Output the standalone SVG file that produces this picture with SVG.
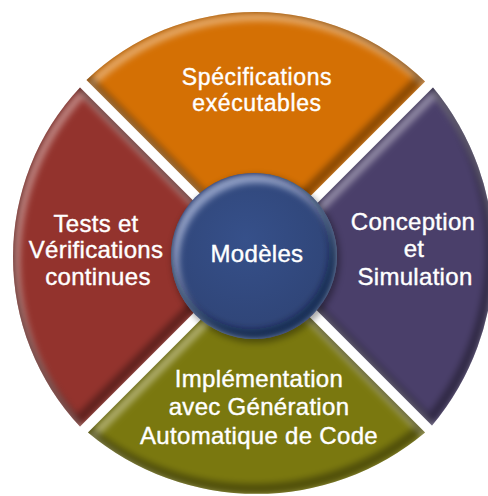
<svg xmlns="http://www.w3.org/2000/svg" xmlns:xlink="http://www.w3.org/1999/xlink" width="488" height="496" viewBox="0 0 488 496">
<style>
.lbl{font-family:"Liberation Sans",Arial,sans-serif;font-size:24px;fill:#fff;text-anchor:middle;stroke:#fff;stroke-width:0.4;letter-spacing:0.3px}
.sm{font-size:23px;letter-spacing:0.6px}
.hl{fill:none;stroke:#fff;stroke-opacity:0.4;stroke-width:8;filter:url(#bl)}
.sh{fill:none;stroke:#000;stroke-opacity:0.35;stroke-width:10;filter:url(#bl)}
</style>
<defs>
<filter id="bl" x="-20%" y="-20%" width="140%" height="140%"><feGaussianBlur stdDeviation="3"/></filter>
<path id="sO" d="M256.5,250 L86.5,80 A243,243 0 0,1 425,81.5 Z"/>
<path id="sR" d="M249.5,257 L80,426.5 A248,248 0 0,1 80,87.5 Z"/>
<path id="sP" d="M263.5,257 L433,87.5 A264,264 0 0,1 432,425.5 Z"/>
<path id="sG" d="M256.5,264 L425,432.5 A262,262 0 0,1 88,432.5 Z"/>
<circle id="sB" cx="254" cy="256" r="83"/>
<clipPath id="cO"><use xlink:href="#sO"/></clipPath>
<clipPath id="cR"><use xlink:href="#sR"/></clipPath>
<clipPath id="cP"><use xlink:href="#sP"/></clipPath>
<clipPath id="cG"><use xlink:href="#sG"/></clipPath>
<clipPath id="cB"><use xlink:href="#sB"/></clipPath>
<radialGradient id="gB" cx="45%" cy="40%" r="60%"><stop offset="0" stop-color="#36508a"/><stop offset="1" stop-color="#2f4476"/></radialGradient>
</defs>
<rect width="488" height="496" fill="#fff"/>
<g id="spec">
<use xlink:href="#sO" fill="#d47004"/>
<g clip-path="url(#cO)">
<use xlink:href="#sO" class="hl" transform="translate(3,5)"/>
<use xlink:href="#sO" class="sh" transform="translate(-3,-5)"/>
</g>
<text class="lbl sm" x="257" y="84.5">Spécifications</text>
<text class="lbl sm" x="257" y="110.5">exécutables</text>
</g>
<g id="tests">
<use xlink:href="#sR" fill="#93332d"/>
<g clip-path="url(#cR)">
<use xlink:href="#sR" class="hl" transform="translate(3,5)"/>
<use xlink:href="#sR" class="sh" transform="translate(-3,-5)"/>
</g>
<text class="lbl" x="96" y="232">Tests et</text>
<text class="lbl" x="96" y="258">Vérifications</text>
<text class="lbl" x="98" y="285">continues</text>
</g>
<g id="conception">
<use xlink:href="#sP" fill="#4a3f6a"/>
<g clip-path="url(#cP)">
<use xlink:href="#sP" class="hl" transform="translate(3,5)"/>
<use xlink:href="#sP" class="sh" transform="translate(-3,-5)"/>
</g>
<text class="lbl" x="413" y="230">Conception</text>
<text class="lbl" x="414" y="257">et</text>
<text class="lbl" x="415" y="285">Simulation</text>
</g>
<g id="implementation">
<use xlink:href="#sG" fill="#7a780f"/>
<g clip-path="url(#cG)">
<use xlink:href="#sG" class="hl" transform="translate(3,5)"/>
<use xlink:href="#sG" class="sh" transform="translate(-3,-5)"/>
</g>
<text class="lbl" x="259" y="387">Implémentation</text>
<text class="lbl" x="259" y="415">avec Génération</text>
<text class="lbl" x="259" y="444">Automatique de Code</text>
</g>
<g id="modeles">
<circle cx="256" cy="259" r="84" fill="#000" opacity="0.35" filter="url(#bl)"/>
<use xlink:href="#sB" fill="url(#gB)"/>
<g clip-path="url(#cB)">
<use xlink:href="#sB" fill="none" stroke="#dfe6ff" stroke-opacity="0.55" stroke-width="10" filter="url(#bl)" transform="translate(3,5)"/>
<use xlink:href="#sB" fill="none" stroke="#0a1430" stroke-opacity="0.5" stroke-width="10" filter="url(#bl)" transform="translate(-3,-5)"/>
</g>
<text class="lbl" x="257" y="262">Modèles</text>
</g>
<g id="connectors"/>
</svg>
